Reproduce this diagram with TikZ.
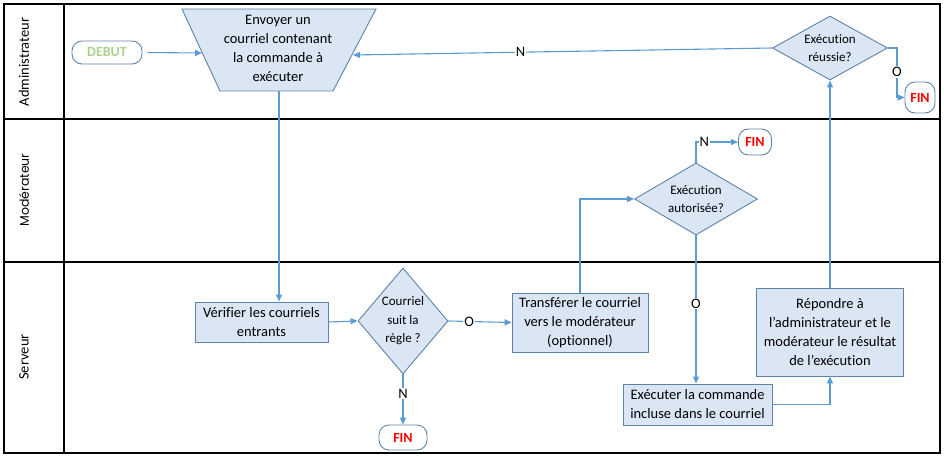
\documentclass[tikz,border=0pt]{standalone}
\usepackage{fontspec}
\setmainfont{Carlito}[Ligatures=NoCommon]
\newfontfamily\modfont{Poppins}
\usetikzlibrary{shapes.geometric,arrows.meta}
\definecolor{fillc}{HTML}{DAE6F4}
\definecolor{bordc}{HTML}{5F82A9}
\definecolor{arrc}{HTML}{5B9BD5}
\definecolor{debutc}{HTML}{A9D18E}
\definecolor{finc}{HTML}{FF0000}
\tikzset{
  box/.style={draw=bordc, fill=fillc, line width=0.9pt, align=center, inner sep=0pt,
    font=\fontsize{14.5}{19}\selectfont},
  dia/.style={diamond, draw=bordc, fill=fillc, line width=0.9pt, inner sep=0pt},
  diatext/.style={align=center, font=\fontsize{13}{18.5}\selectfont},
  term/.style={draw=bordc, rounded corners=10pt, line width=0.9pt, inner sep=0pt,
    font=\fontsize{14}{16}\selectfont\bfseries},
  conn/.style={draw=arrc, line width=1.1pt, -{Triangle[length=7pt,width=6pt]}},
  lab/.style={fill=white, inner sep=1pt, font=\fontsize{14.5}{16}\selectfont},
  lane/.style={draw=black, line width=1.3pt},
  lanelab/.style={rotate=90, font=\fontsize{14.5}{16}\selectfont}
}
\begin{document}
\begin{tikzpicture}[x=1pt,y=-1pt]
\useasboundingbox (0,0) rectangle (944,457);
% lanes
\draw[lane] (4,4) rectangle (940,453);
\draw[lane] (64,4) -- (64,453);
\draw[lane] (4,119) -- (940,119);
\draw[lane] (4,262) -- (940,262);
\node[lanelab] (l1) at (24,62) {Administrateur};
\node[lanelab, font=\modfont\fontsize{12.5}{14}\selectfont] (l2) at (24,190) {Modérateur};
\node[lanelab] (l3) at (24,357) {Serveur};

% trapezoid
\draw[draw=bordc, fill=fillc, line width=0.9pt] (182,9) -- (376,9) -- (333,91) -- (220,91) -- cycle;
\node[align=center, font=\fontsize{14.5}{19}\selectfont] (env) at (278,48) {Envoyer un\\courriel contenant\\la commande à\\exécuter};
\coordinate (envL) at (202,53);
\coordinate (envR) at (353,55);
\coordinate (envB) at (279,91);

% terminators
\node[term, minimum width=70pt, minimum height=23pt, text=debutc] (debut) at (107,52.5) {DEBUT};
\node[term, minimum width=48pt, minimum height=25pt, text=finc] (fin1) at (403,437.5) {FIN};
\node[term, minimum width=33pt, minimum height=26pt, text=finc] (fin2) at (755,142) {FIN};
\node[term, minimum width=30pt, minimum height=31pt, text=finc] (fin3) at (920,97.5) {FIN};

% boxes
\node[box, minimum width=133pt, minimum height=40pt] (ver) at (261.5,322) {Vérifier les courriels\\entrants};
\node[box, minimum width=136pt, minimum height=59pt] (trans) at (580,322.5) {Transférer le courriel\\vers le modérateur\\(optionnel)};
\node[box, minimum width=149pt, minimum height=41pt] (exec) at (697.5,404.5) {Exécuter la commande\\incluse dans le courriel};
\node[box, minimum width=147pt, minimum height=88pt] (rep) at (830,332) {Répondre à\\l’administrateur et le\\modérateur le résultat\\de l’exécution};

% diamonds
\node[dia, minimum width=90pt, minimum height=106pt] (d1) at (403,321) {};
\node[diatext] (d1t) at (d1.center) {Courriel\\suit la\\règle ?};
\node[dia, minimum width=123pt, minimum height=72pt] (d2) at (696,199) {};
\node[diatext] (d2t) at (d2.center) {Exécution\\autorisée?};
\node[dia, minimum width=115pt, minimum height=64pt] (d3) at (830,48) {};
\node[diatext] (d3t) at (d3.center) {Exécution\\réussie?};

% connectors
\draw[conn, shorten <=5pt] (debut.east) -- (envL);
\draw[conn] (envB) -- (ver.north -| envB);
\draw[conn] (ver.east) -- (d1.west);
\draw[conn] (d1.east) -- node[lab, pos=0.33] {O} (trans.west);
\draw[conn] (d1.south) -- node[lab, pos=0.38] {N} (fin1.north);
\draw[conn] (trans.north) |- (d2.west);
\draw[conn] (d2.north) |- node[lab, pos=0.6] {N} (fin2.west);
\draw[conn] (d2.south) -- node[lab, pos=0.46] {O} (exec.north -| d2.south);
\draw[conn] (exec.east) -| (rep.south);
\draw[conn] (rep.north) -- (d3.south);
\draw[conn] (d3.west) -- node[lab, pos=0.6] {N} (envR);
\draw[conn] (d3.east) -- ++(9,0) |- node[lab, pos=0.24] {O} (fin3.west);
\end{tikzpicture}
\end{document}
